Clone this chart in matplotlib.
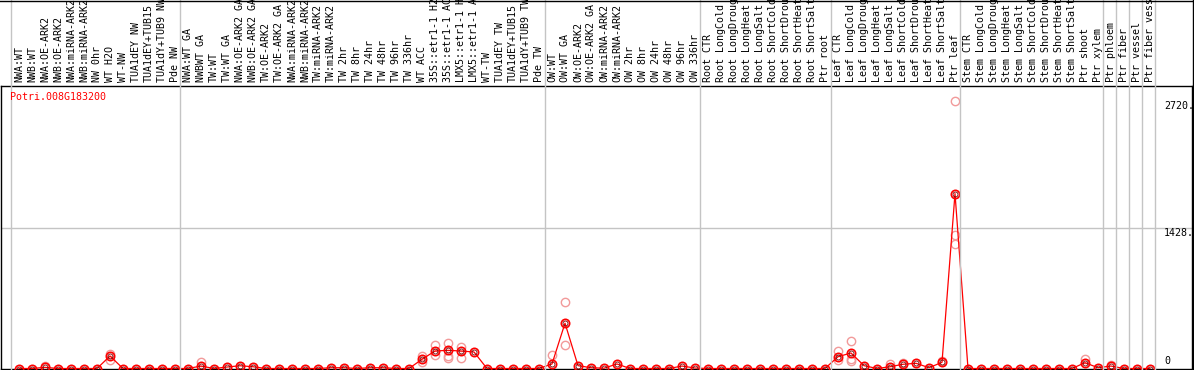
import matplotlib.pyplot as plt
import matplotlib.transforms as mtransforms
from matplotlib.lines import Line2D

# sample labels, in plotting order
samples = [
    "NWA:WT", "NWB:WT", "NWA:OE-ARK2", "NWB:OE-ARK2", "NWA:miRNA-ARK2", "NWB:miRNA-ARK2",
    "NW 0hr", "WT H2O", "WT-NW", "TUA1dEY NW", "TUA1dEY+TUB15", "TUA1dY+TUB9 NW", "Pde NW",
    "NWA:WT GA", "NWBWT GA", "TW:WT", "TW:WT GA", "NWA:OE-ARK2 GA", "NWB:OE-ARK2 GA",
    "TW:OE-ARK2", "TW:OE-ARK2 GA", "NWA:miRNA-ARK2", "NWB:miRNA-ARK2", "TW:miRNA-ARK2",
    "TW:miRNA-ARK2", "TW 2hr", "TW 8hr", "TW 24hr", "TW 48hr", "TW 96hr", "TW 336hr",
    "WT ACC", "35S::etr1-1 H2", "35S::etr1-1 AC", "LMX5::etr1-1 H", "LMX5::etr1-1 A",
    "WT-TW", "TUA1dEY TW", "TUA1dEY+TUB15", "TUA1dY+TUB9 TW", "Pde TW",
    "OW:WT", "OW:WT GA", "OW:OE-ARK2", "OW:OE-ARK2 GA", "OW:miRNA-ARK2", "OW:miRNA-ARK2",
    "OW 2hr", "OW 8hr", "OW 24hr", "OW 48hr", "OW 96hr", "OW 336hr",
    "Root CTR", "Root LongCold", "Root LongDroug", "Root LongHeat", "Root LongSalt",
    "Root ShortCold", "Root ShortDrou", "Root ShortHeat", "Root ShortSalt", "Ptr root",
    "Leaf CTR", "Leaf LongCold", "Leaf LongDroug", "Leaf LongHeat", "Leaf LongSalt",
    "Leaf ShortCold", "Leaf ShortDrou", "Leaf ShortHeat", "Leaf ShortSalt", "Ptr leaf",
    "Stem CTR", "Stem LongCold", "Stem LongDroug", "Stem LongHeat", "Stem LongSalt",
    "Stem ShortCold", "Stem ShortDrou", "Stem ShortHeat", "Stem ShortSalt",
    "Ptr shoot", "Ptr xylem", "Ptr phloem", "Ptr fiber", "Ptr vessel", "Ptr fiber vess",
]

# mean expression per sample
expr_mean = [
    0, 0, 12, 0, 0, 0, 0, 127, 0, 0, 0, 0, 0,
    0, 25, 0, 15, 28, 18, 0, 0, 0, 0, 0, 8, 8, 0, 8, 8, 0, 0,
    94, 178, 185, 178, 168, 0, 0, 0, 0, 0,
    46, 461, 29, 8, 3, 46, 0, 0, 0, 0, 25, 5,
    0, 0, 0, 0, 0, 0, 0, 0, 0, 0,
    120, 158, 29, 0, 18, 43, 53, 8, 63, 1780,
    0, 0, 0, 0, 0, 0, 0, 0, 0,
    59, 8, 25, 0, 0, 0,
]

# individual replicates that stand apart from the mean
rep_idx = [2, 7, 7, 14, 31, 31, 32, 32, 33, 33, 33, 34, 34, 41, 42, 42,
           63, 63, 64, 64, 64, 67, 68, 71, 72, 72, 72, 82, 84]
rep_val = [25, 148, 87, 65, 128, 70, 240, 138, 263, 128, 110, 222, 110, 138, 675, 237,
           178, 87, 280, 94, 80, 43, 59, 75, 2720, 1357, 1265, 97, 35]

# group separators (between sample positions)
group_breaks = [-0.64, 12.38, 40.46, 52.38, 62.44, 72.38, 83.38, 84.38, 85.38, 86.38, 87.38]
y_marks = [0, 1428, 2720]
gene = "Potri.008G183200"

W, H = 1194, 370
mono = "DejaVu Sans Mono"
fs = 7.2
grey = "#c4c4c4"

fig = plt.figure(figsize=(W / 100, H / 100), dpi=100)
ax = fig.add_axes([1 / W, (H - 368.5) / H, 1191 / W, (368.5 - 86) / H])

x = list(range(len(samples)))
ax.set_xlim(-18 / 13, -18 / 13 + 1191 / 13)
ax.set_ylim(0, 2875)

# grid
ax.axhline(y_marks[1], color=grey, lw=1.0, zorder=1)
vtrans = mtransforms.blended_transform_factory(ax.transData, fig.transFigure)
for b in group_breaks:
    fig.add_artist(Line2D([b, b], [0, 1], transform=vtrans, color=grey, lw=1.0, zorder=1))

# replicates, then means
ax.plot(rep_idx, rep_val, ls="none", marker="o", ms=6, mfc="none", mec="#f29a9a",
        mew=1.0, clip_on=False, zorder=2)
ax.plot(x, expr_mean, color="red", lw=0.9, clip_on=False, zorder=3)
ax.plot(x, expr_mean, ls="none", marker="o", ms=6, mfc="none", mec="red",
        mew=1.2, clip_on=False, zorder=4)
ax.plot(x, expr_mean, ls="none", marker="o", ms=3.6, mfc="none", mec="#700000",
        mew=0.6, clip_on=False, zorder=5)

# sample labels above the plot
lab_trans = mtransforms.offset_copy(ax.get_xaxis_transform(), fig=fig, y=3, units="points")
for i, s in enumerate(samples):
    ax.text(i, 1, s, rotation=90, ha="center", va="bottom", family=mono, fontsize=fs,
            transform=lab_trans, clip_on=False)

# value labels on the right
ytr = ax.get_yaxis_transform()
xl = (1164 - 1) / 1191
ax.text(xl, y_marks[2], f"{y_marks[2]}.", transform=ytr, ha="left", va="top",
        family=mono, fontsize=fs)
ax.text(xl, y_marks[1], f"{y_marks[1]}.", transform=ytr, ha="left", va="top",
        family=mono, fontsize=fs)
ax.text(xl, 25, f"{y_marks[0]}", transform=ytr, ha="left", va="bottom",
        family=mono, fontsize=fs)

fig.text(10 / W, 1 - 97 / H, gene, color="red", family=mono, fontsize=fs, va="center")

ax.set_xticks([])
ax.set_yticks([])
for sp in ax.spines.values():
    sp.set_color("black")
    sp.set_linewidth(1.0)

# right and top border through the label area
fig.add_artist(Line2D([1192.5 / W, 1192.5 / W], [0, 1], transform=fig.transFigure,
                      color="black", lw=1.0))
fig.add_artist(Line2D([0, 1], [1 - 0.5 / H, 1 - 0.5 / H], transform=fig.transFigure,
                      color="black", lw=1.0))

fig.savefig("out.png", dpi=100)
